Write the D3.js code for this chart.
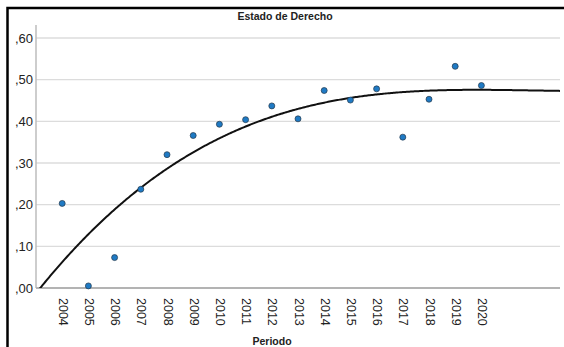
<!DOCTYPE html>
<html><head><meta charset="utf-8">
<script src="https://cdn.jsdelivr.net/npm/d3@7"></script>
<style>html,body{margin:0;padding:0;background:#fff;}svg{display:block;font-family:"Liberation Sans",Arial,sans-serif;}</style>
</head><body>
<script>
const years = [2004,2005,2006,2007,2008,2009,2010,2011,2012,2013,2014,2015,2016,2017,2018,2019,2020];
const values = [0.203,0.005,0.073,0.237,0.320,0.366,0.393,0.404,0.437,0.406,0.474,0.451,0.478,0.362,0.453,0.532,0.486];
const yTicks = [0,0.1,0.2,0.3,0.4,0.5,0.6];
const title = "Estado de Derecho";
const xTitle = "Periodo";

const W = 564, H = 347;
const svg = d3.select("body").append("svg").attr("width", W).attr("height", H);

const x = d3.scaleLinear().domain([2003, 2023]).range([36, 560]);
const y = d3.scaleLinear().domain([0, 0.6]).range([288, 38]);
const plotTop = 25;

// border
svg.append("rect").attr("x", 7.5).attr("y", 8).attr("width", 700).attr("height", 500)
  .attr("fill", "none").attr("stroke", "#000").attr("stroke-width", 2.5);

// gridlines
svg.append("g").selectAll("line").data(yTicks.filter(d => d > 0)).join("line")
  .attr("x1", x.range()[0]).attr("x2", x.range()[1])
  .attr("y1", d => y(d)).attr("y2", d => y(d))
  .attr("stroke", "#dcdcdc").attr("stroke-width", 1.3);

// y axis
const fmt = d => d3.format(".2f")(d).replace(/^0/, "").replace(".", ",");
const yAxis = d3.axisLeft(y).tickValues(yTicks).tickFormat(fmt).tickSize(0).tickPadding(3);
const gy = svg.append("g").attr("transform", `translate(${x.range()[0]},0)`).call(yAxis);
gy.select(".domain").remove();
gy.selectAll("text").attr("font-size", 13).attr("fill", "#222").attr("font-family", "Liberation Sans, Arial, sans-serif");
svg.append("line").attr("x1", 36).attr("x2", 36).attr("y1", plotTop).attr("y2", 288)
  .attr("stroke", "#bdbdbd").attr("stroke-width", 1.5);

// x axis
const xAxis = d3.axisBottom(x).tickValues(years).tickFormat(d3.format("d")).tickSize(0).tickPadding(0);
const gx = svg.append("g").attr("transform", "translate(0,288)").call(xAxis);
gx.select(".domain").remove();
gx.selectAll("text")
  .attr("font-size", 12.5).attr("fill", "#222").attr("font-family", "Liberation Sans, Arial, sans-serif")
  .attr("text-anchor", "start").attr("dy", null).attr("y", 0)
  .attr("transform", "translate(0,10) rotate(90)")
  .attr("dominant-baseline", "central");
svg.append("line").attr("x1", 36).attr("x2", 560).attr("y1", 288).attr("y2", 288)
  .attr("stroke", "#b3b3b3").attr("stroke-width", 2);

// cubic fit (least squares) from data
const tc = 2012;
function polyfit(xs, ys, deg) {
  const n = deg + 1;
  const A = Array.from({length: n}, () => new Array(n + 1).fill(0));
  for (let i = 0; i < xs.length; i++) {
    const t = xs[i] - tc;
    for (let r = 0; r < n; r++) {
      for (let c = 0; c < n; c++) A[r][c] += Math.pow(t, r + c);
      A[r][n] += Math.pow(t, r) * ys[i];
    }
  }
  for (let i = 0; i < n; i++) {
    let p = i;
    for (let k = i + 1; k < n; k++) if (Math.abs(A[k][i]) > Math.abs(A[p][i])) p = k;
    [A[i], A[p]] = [A[p], A[i]];
    for (let k = i + 1; k < n; k++) {
      const f = A[k][i] / A[i][i];
      for (let c = i; c <= n; c++) A[k][c] -= f * A[i][c];
    }
  }
  const coef = new Array(n).fill(0);
  for (let i = n - 1; i >= 0; i--) {
    let s = A[i][n];
    for (let c = i + 1; c < n; c++) s -= A[i][c] * coef[c];
    coef[i] = s / A[i][i];
  }
  return coef;
}
const coef = polyfit(years, values, 3);
const fitF = yr => coef.reduce((s, c, i) => s + c * Math.pow(yr - tc, i), 0);
const fitPts = d3.range(2003, 2023.001, 0.05).map(yr => [yr, fitF(yr)]);

svg.append("clipPath").attr("id", "clip").append("rect")
  .attr("x", 36).attr("y", plotTop).attr("width", 524).attr("height", 288 - plotTop);
svg.append("path").datum(fitPts)
  .attr("clip-path", "url(#clip)")
  .attr("fill", "none").attr("stroke", "#111").attr("stroke-width", 2)
  .attr("d", d3.line().x(d => x(d[0])).y(d => y(d[1])));

// points
svg.append("g").selectAll("circle").data(years.map((yr, i) => [yr, values[i]])).join("circle")
  .attr("cx", d => x(d[0])).attr("cy", d => y(d[1])).attr("r", 3)
  .attr("fill", "#1f7ac4").attr("stroke", "#24384a").attr("stroke-width", 0.7);

// titles
svg.append("text").attr("x", 285).attr("y", 16).attr("text-anchor", "middle")
  .attr("dominant-baseline", "central").attr("font-size", 10.5).attr("font-weight", "bold")
  .attr("fill", "#222").text(title);
svg.append("text").attr("x", 272).attr("y", 341).attr("text-anchor", "middle")
  .attr("dominant-baseline", "central").attr("font-size", 10.5).attr("font-weight", "bold")
  .attr("fill", "#222").text(xTitle);
</script>
</body></html>
